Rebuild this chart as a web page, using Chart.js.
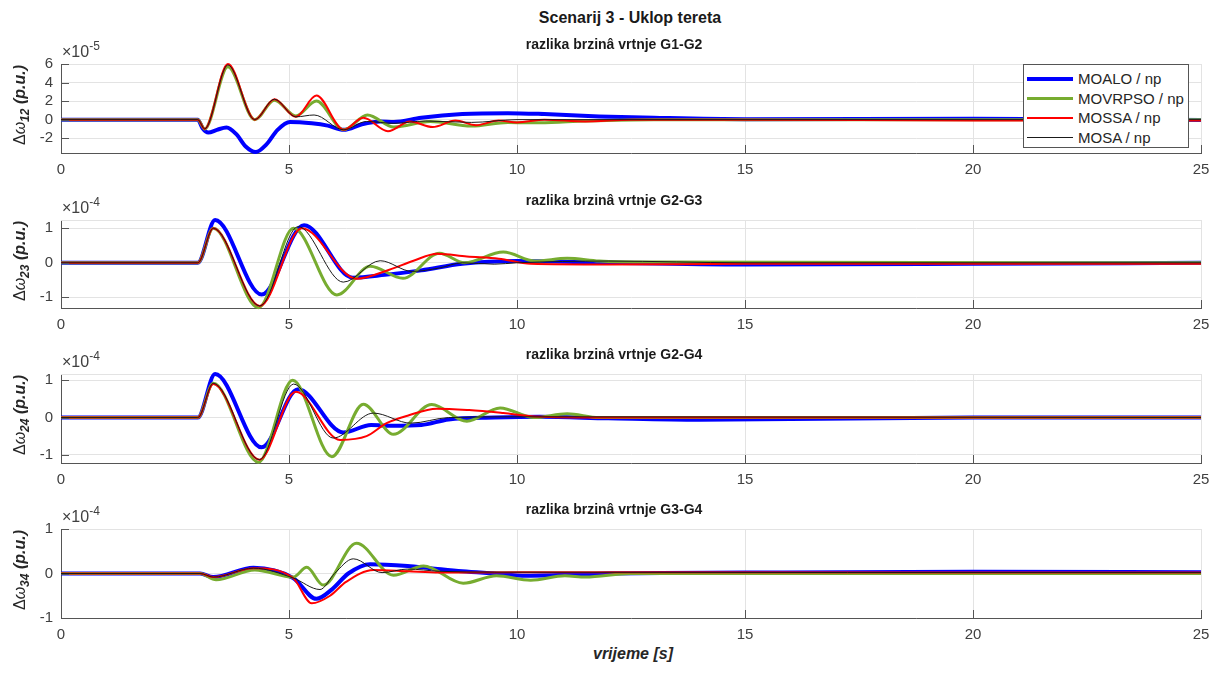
<!DOCTYPE html>
<html>
<head>
<meta charset="utf-8">
<script src="https://cdn.jsdelivr.net/npm/chart.js@4.4.0/dist/chart.umd.min.js"></script>
<style>
  body { margin: 0; background: #fff; width: 1220px; height: 675px; position: relative; overflow: hidden;
         font-family: "Liberation Sans", Arial, sans-serif; color: #262626; }
  canvas { position: absolute; left: 0; }
  .txt { position: absolute; white-space: nowrap; }
  .title { font-weight: bold; font-size: 14px; line-height: 16px; transform: translateX(-50%); color: #1a1a1a; }
  .ylab { font-size: 16px; line-height: 18px; transform: translate(-50%, -50%) rotate(-90deg); }
  .ylab sub { font-size: 12px; vertical-align: -4px; }
  .exp { font-size: 16px; line-height: 16px; color: #404040; }
  .exp sup { font-size: 12px; vertical-align: 7px; }
  #legend { position: absolute; left: 1023px; top: 64px; width: 164px; height: 82px; background: #fff;
            border: 1px solid #555; font-size: 15px; color: #262626; }
  #legend .row { position: absolute; left: 3px; height: 20px; }
  #legend .ln { position: absolute; left: 0; width: 46px; }
  #legend .lb { position: absolute; left: 51px; top: 2px; line-height: 16px; white-space: nowrap; }
</style>
</head>
<body>
<div class="txt title" style="left:630px; top:8px; font-size:16px; line-height:20px;">Scenarij 3 - Uklop tereta</div>
<div class="txt" style="left:633px; top:645px; transform:translateX(-50%); font-size:16px; font-weight:bold; font-style:italic;">vrijeme [s]</div>
<div id="legend"></div>

<script>
// series names, in plotting order
const seriesNames = ['MOALO / np', 'MOVRPSO / np', 'MOSSA / np', 'MOSA / np'];
const timeTicks = [0, 5, 10, 15, 20, 25];

// razlika G1-G2, values x1e-5, [time, value]
const g12_moalo = [[0,0],[3.0,0],[3.1,-0.9],[3.23,-1.4],[3.42,-1.1],[3.63,-0.85],[3.85,-1.6],[4.05,-2.9],[4.27,-3.5],[4.5,-2.7],[4.75,-1.1],[5.02,-0.25],[5.5,-0.4],[5.85,-0.65],[6.2,-1.1],[6.6,-0.5],[7.0,-0.2],[7.3,-0.25],[7.9,0.2],[8.8,0.6],[9.8,0.7],[10.6,0.6],[11.8,0.35],[13,0.2],[15,0.05],[20,0.1],[25,-0.05]];
const g12_movrpso = [[0,0],[3.0,0],[3.15,-1.0],[3.66,5.7],[4.25,0],[4.68,2.1],[5.15,0.4],[5.6,2.0],[6.2,-1.1],[6.72,0.5],[7.3,-0.8],[8.1,-0.2],[9.0,-0.7],[9.8,-0.3],[10.5,-0.35],[11.5,-0.15],[13,0],[25,0]];
const g12_mossa = [[0,0],[3.0,0],[3.15,-1.0],[3.66,6.0],[4.25,0],[4.68,2.2],[5.15,0.3],[5.6,2.6],[6.2,-1.1],[6.63,0.2],[7.17,-1.25],[7.65,-0.2],[8.15,-0.8],[8.65,-0.1],[9.1,-0.6],[9.6,-0.1],[10.0,-0.3],[10.6,0],[11.5,-0.2],[12.5,0],[15,0],[20,-0.1],[25,-0.1]];
const g12_mosa = [[0,0],[3.0,0],[3.15,-1.0],[3.66,5.9],[4.25,0],[4.68,2.2],[5.15,0.3],[5.55,0.5],[6.2,-1.1],[6.7,-0.2],[7.3,-0.4],[8.0,-0.15],[9.0,-0.3],[10,0],[15,0],[25,0]];
const g12Ticks = [-2, 0, 2, 4, 6];

// razlika G2-G3, values x1e-4
const g23_moalo = [[0,0],[3.0,0],[3.38,1.24],[4.4,-0.92],[5.33,1.09],[6.4,-0.43],[7.1,-0.35],[7.9,-0.22],[8.8,-0.03],[10,0.05],[12,0],[15,-0.05],[20,-0.03],[25,0]];
const g23_movrpso = [[0,0],[3.0,0],[3.34,1.0],[4.33,-1.3],[5.1,1.0],[6.05,-0.93],[6.78,-0.1],[7.5,-0.45],[8.3,0.28],[8.85,0],[9.7,0.31],[10.4,0.05],[11.1,0.13],[11.8,0.05],[13,0.02],[25,0]];
const g23_mossa = [[0,0],[3.0,0],[3.34,1.0],[4.36,-1.25],[5.28,1.0],[6.48,-0.46],[7.2,-0.2],[7.73,0.06],[8.25,0.26],[8.9,0.18],[9.6,0.12],[10.3,-0.03],[12,-0.05],[15,-0.03],[25,-0.03]];
const g23_mosa = [[0,0],[3.0,0],[3.34,1.0],[4.36,-1.25],[5.2,1.05],[6.19,-0.56],[7.0,0.06],[7.7,-0.25],[8.3,-0.15],[8.8,0],[9.5,-0.04],[10,0],[12,0.05],[15,0],[25,0]];
const g23Ticks = [-1, 0, 1];

// razlika G2-G4, values x1e-4
const g24_moalo = [[0,0],[3.0,0],[3.38,1.17],[4.4,-0.8],[5.2,0.76],[6.19,-0.4],[6.8,-0.2],[7.3,-0.22],[7.9,-0.2],[8.5,-0.05],[9.5,0],[10.5,0.02],[12,-0.02],[14,-0.06],[16,-0.04],[20,0],[25,0]];
const g24_movrpso = [[0,0],[3.0,0],[3.34,0.92],[4.33,-1.2],[5.08,1.0],[5.94,-1.05],[6.63,0.36],[7.29,-0.45],[8.13,0.35],[8.9,-0.1],[9.63,0.26],[10.37,0],[11.1,0.1],[11.8,0],[25,0]];
const g24_mossa = [[0,0],[3.0,0],[3.34,0.9],[4.35,-1.13],[5.15,0.69],[6.12,-0.6],[6.7,-0.5],[7.14,-0.15],[7.6,0.05],[8.24,0.24],[8.95,0.2],[9.7,0.12],[10.4,0.03],[12,0],[25,0]];
const g24_mosa = [[0,0],[3.0,0],[3.34,0.92],[4.35,-1.13],[5.1,0.9],[5.97,-0.55],[6.85,0.12],[7.67,-0.15],[8.5,0],[10,0.02],[25,0]];
const g24Ticks = [-1, 0, 1];

// razlika G3-G4, values x1e-4
const g34_moalo = [[0,0],[3.05,0],[3.34,-0.08],[4.22,0.13],[5.09,-0.1],[5.6,-0.57],[5.95,-0.35],[6.3,0],[6.78,0.21],[7.6,0.17],[8.1,0.12],[8.8,0.05],[9.5,0],[10.2,-0.05],[12,0],[15,0.02],[20,0.04],[25,0.03]];
const g34_movrpso = [[0,0],[3.05,0],[3.4,-0.14],[4.25,0.08],[5.09,-0.08],[5.39,0.14],[5.75,-0.26],[6.48,0.68],[7.29,-0.04],[7.95,0.17],[8.82,-0.22],[9.55,-0.05],[10.3,-0.15],[11.05,-0.05],[11.5,-0.08],[12.5,0],[25,0]];
const g34_mossa = [[0,0],[3.05,0],[3.34,-0.08],[4.22,0.12],[5.09,-0.1],[5.5,-0.67],[5.9,-0.5],[6.25,-0.19],[6.85,0.08],[7.6,0.05],[8.3,0.02],[10,0.03],[25,0.02]];
const g34_mosa = [[0,0],[3.05,0],[3.34,-0.08],[4.22,0.12],[5.09,-0.1],[5.68,-0.36],[6.0,0],[6.41,0.33],[7.04,0.02],[7.6,0.1],[8.3,0.05],[9.5,0.03],[25,0.02]];
const g34Ticks = [-1, 0, 1];

const panelTitles = ['razlika brzinâ vrtnje G1-G2', 'razlika brzinâ vrtnje G2-G3', 'razlika brzinâ vrtnje G2-G4', 'razlika brzinâ vrtnje G3-G4'];

const lineStyle = [
  { color: '#0000ff', width: 4 },
  { color: '#77ac30', width: 3 },
  { color: '#ff0000', width: 2 },
  { color: '#1a1a1a', width: 1 }
];

// layout of the four axes (pixels)
const panels = [
  { series: [g12_moalo, g12_movrpso, g12_mossa, g12_mosa], ticks: g12Ticks, min: -3.6, max: 6, top: 57, bottom: 153, sub: '12', exp: '-5' },
  { series: [g23_moalo, g23_movrpso, g23_mossa, g23_mosa], ticks: g23Ticks, min: -1.31, max: 1.24, top: 213, bottom: 308, sub: '23', exp: '-4' },
  { series: [g24_moalo, g24_movrpso, g24_mossa, g24_mosa], ticks: g24Ticks, min: -1.22, max: 1.17, top: 367, bottom: 463, sub: '24', exp: '-4' },
  { series: [g34_moalo, g34_movrpso, g34_mossa, g34_mosa], ticks: g34Ticks, min: -1, max: 1, top: 522, bottom: 618, sub: '34', exp: '-4' }
];

const PAD_TOP = 10, X_AXIS_H = 30;
const tickFont = { family: 'Liberation Sans', size: 15 };

// light top border + inward tick marks like matlab
const axisMarks = {
  id: 'axisMarks',
  beforeDatasetsDraw(chart) {
    const { ctx, chartArea: a } = chart;
    ctx.save();
    ctx.strokeStyle = '#e3e3e3';
    ctx.lineWidth = 1;
    ctx.beginPath();
    ctx.moveTo(a.left, Math.round(a.top) + 0.5);
    ctx.lineTo(a.right, Math.round(a.top) + 0.5);
    ctx.stroke();
    ctx.restore();
  },
  afterDatasetsDraw(chart) {
    const { ctx, chartArea: a, scales: { x, y } } = chart;
    ctx.save();
    ctx.strokeStyle = '#555';
    ctx.lineWidth = 1;
    ctx.beginPath();
    x.ticks.forEach(t => {
      const px = Math.round(x.getPixelForValue(t.value)) + 0.5;
      ctx.moveTo(px, a.bottom);
      ctx.lineTo(px, a.bottom - 8);
    });
    y.ticks.forEach(t => {
      const py = Math.round(y.getPixelForValue(t.value)) + 0.5;
      ctx.moveTo(a.left, py);
      ctx.lineTo(a.left + 8, py);
    });
    ctx.stroke();
    ctx.restore();
  }
};

panels.forEach((p, k) => {
  const canvas = document.createElement('canvas');
  const h = p.bottom - p.top + PAD_TOP + X_AXIS_H;
  canvas.width = 1220;
  canvas.height = h;
  canvas.style.top = (p.top - PAD_TOP) + 'px';
  canvas.style.width = '1220px';
  canvas.style.height = h + 'px';
  document.body.insertBefore(canvas, document.getElementById('legend'));

  new Chart(canvas, {
    type: 'line',
    data: {
      datasets: p.series.map((s, i) => ({
        label: seriesNames[i],
        data: s.map(([x, y]) => ({ x, y })),
        borderColor: lineStyle[i].color,
        borderWidth: lineStyle[i].width,
        pointRadius: 0,
        fill: false,
        clip: 4,
        cubicInterpolationMode: 'monotone',
        order: 4 - i
      }))
    },
    options: {
      responsive: false,
      animation: false,
      layout: { padding: { top: PAD_TOP, right: 19, left: 0, bottom: 0 } },
      plugins: { legend: { display: false }, tooltip: { enabled: false } },
      scales: {
        x: {
          type: 'linear', min: 0, max: 25,
          afterBuildTicks: s => { s.ticks = timeTicks.map(v => ({ value: v })); },
          afterFit: s => { s.height = X_AXIS_H; },
          grid: { color: '#e3e3e3', drawTicks: false },
          border: { color: '#555' },
          ticks: { padding: 8, color: '#404040', font: tickFont, maxRotation: 0, callback: v => String(v) }
        },
        y: {
          type: 'linear', min: p.min, max: p.max,
          afterBuildTicks: s => { s.ticks = p.ticks.map(v => ({ value: v })); },
          afterFit: s => { s.width = 61; },
          grid: { color: '#e3e3e3', drawTicks: false },
          border: { color: '#555' },
          ticks: { padding: 8, color: '#404040', font: tickFont, callback: v => String(v) }
        }
      }
    },
    plugins: [axisMarks]
  });

  // panel title, exponent and y label as text
  const t = document.createElement('div');
  t.className = 'txt title';
  t.style.left = '614px';
  t.style.top = (p.top - 21) + 'px';
  t.textContent = panelTitles[k];
  document.body.appendChild(t);

  const e = document.createElement('div');
  e.className = 'txt exp';
  e.style.left = '62px';
  e.style.top = (p.top - 19) + 'px';
  e.innerHTML = '×10<sup>' + p.exp + '</sup>';
  document.body.appendChild(e);

  const yl = document.createElement('div');
  yl.className = 'txt ylab';
  yl.style.left = '22px';
  yl.style.top = ((p.top + p.bottom) / 2) + 'px';
  yl.innerHTML = 'Δ<i>ω</i><sub><b><i>' + p.sub + '</i></b></sub> <b><i>(p.u.)</i></b>';
  document.body.appendChild(yl);
});

// legend box in the first axes
const legend = document.getElementById('legend');
seriesNames.forEach((name, i) => {
  const row = document.createElement('div');
  row.className = 'row';
  row.style.top = (4 + i * 19.6) + 'px';
  row.style.width = '160px';
  const ln = document.createElement('div');
  ln.className = 'ln';
  ln.style.height = lineStyle[i].width + 'px';
  ln.style.top = (10 - lineStyle[i].width / 2) + 'px';
  ln.style.background = lineStyle[i].color;
  const lb = document.createElement('div');
  lb.className = 'lb';
  lb.textContent = name;
  row.appendChild(ln);
  row.appendChild(lb);
  legend.appendChild(row);
});
document.body.appendChild(legend);
</script>
</body>
</html>
